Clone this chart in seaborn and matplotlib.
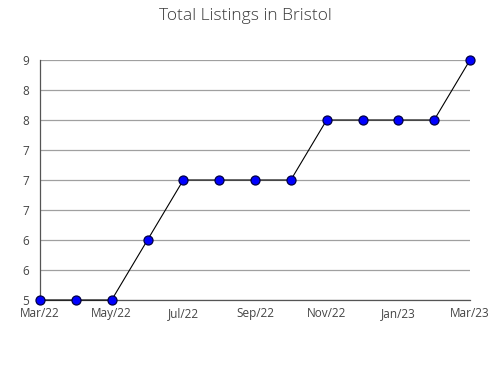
import matplotlib
matplotlib.use("Agg")
import matplotlib.pyplot as plt
from matplotlib.ticker import AutoMinorLocator
import seaborn as sns
import pandas as pd

months = ["Mar/22", "Apr/22", "May/22", "Jun/22", "Jul/22", "Aug/22", "Sep/22",
          "Oct/22", "Nov/22", "Dec/22", "Jan/23", "Feb/23", "Mar/23"]
listings = [5, 5, 5, 6, 7, 7, 7, 7, 8, 8, 8, 8, 9]
ytick_values = [5, 5.5, 6, 6.5, 7, 7.5, 8, 8.5, 9]
ytick_labels = ["5", "6", "6", "7", "7", "7", "8", "8", "9"]
title = "Total Listings in Bristol"

df = pd.DataFrame({"idx": range(len(months)), "month": months, "listings": listings})

sns.set_style("white")
plt.rcParams['font.family'] = ['Open Sans', 'DejaVu Sans']

fig = plt.figure(figsize=(4.9, 3.8), dpi=100)
ax = fig.add_axes([40/490, 1-300/380, 430/490, 240/380])

sns.lineplot(data=df, x="idx", y="listings", ax=ax, color="black", linewidth=0.8,
             marker="o", markersize=6.5, markerfacecolor="#0000ff",
             markeredgecolor="#000044", markeredgewidth=0.9, zorder=5, clip_on=False)

ax.set_xlim(0, len(months) - 1)
ax.set_ylim(5, 9)
ax.set_yticks(ytick_values)
ax.set_yticklabels(ytick_labels)
ax.yaxis.set_minor_locator(AutoMinorLocator(5))
ax.set_xticks(list(range(len(months))))
ax.set_xticklabels([m if i % 2 == 0 else "" for i, m in enumerate(months)])

ax.grid(axis="y", color="#a0a0a0", linewidth=0.9)
ax.set_axisbelow(True)
for s in ["top", "right"]:
    ax.spines[s].set_visible(False)
for s in ["left", "bottom"]:
    ax.spines[s].set_color("#555555")
    ax.spines[s].set_linewidth(0.9)

ax.tick_params(axis="y", which="major", direction="out", length=5, width=0.8,
               color="#555555", labelsize=8.5, labelcolor="#444444", pad=3)
ax.tick_params(axis="y", which="minor", direction="out", length=3, width=0.8,
               color="#555555")
ax.tick_params(axis="x", which="major", direction="in", length=5, width=0.8,
               color="#555555", labelsize=8.5, labelcolor="#444444", pad=5)
ax.set_xlabel("")
ax.set_ylabel("")

fig.text(245/490, 1-16/380, title, ha="center", va="center", fontsize=12.5,
         color="#3a3a3a", fontweight="light")

fig.savefig("out.png", dpi=100)
